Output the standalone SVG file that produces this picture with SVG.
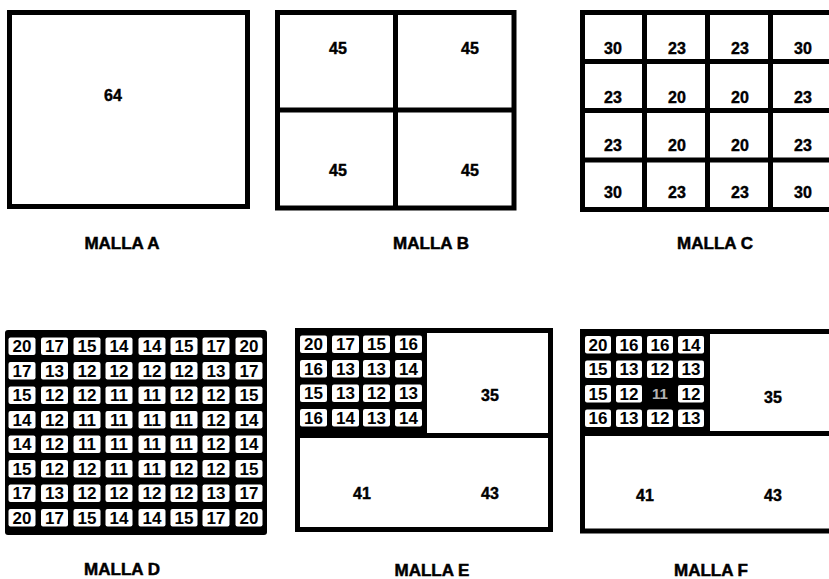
<svg xmlns="http://www.w3.org/2000/svg" width="829" height="579" viewBox="0 0 829 579">
<style>
.frame{fill:none;stroke:#000;stroke-width:5}
.div{stroke:#000;stroke-width:5}
.num{font-family:"Liberation Sans",Arial,sans-serif;font-weight:bold;font-size:16px;text-anchor:middle;fill:#000;stroke:#000;stroke-width:0.4}
.lbl{font-family:"Liberation Sans",Arial,sans-serif;font-weight:bold;font-size:17px;text-anchor:middle;fill:#000;stroke:#000;stroke-width:0.5}
.blk{fill:#000}
.cell{fill:#fff;rx:2}
.cn{font-family:"Liberation Sans",Arial,sans-serif;font-weight:bold;font-size:17px;text-anchor:middle;fill:#000}
.cw{font-family:"Liberation Sans",Arial,sans-serif;font-weight:bold;font-size:15px;text-anchor:middle;fill:#fff;opacity:0.7}
</style>
<rect width="829" height="579" fill="#fff"/>

<g id="mallaA">
<rect class="frame" x="9.5" y="12.5" width="238" height="194"/>
<text class="num" x="113" y="101">64</text>
<text class="lbl" x="122" y="249">MALLA A</text>
</g>

<g id="mallaB">
<rect class="frame" x="277.5" y="12.5" width="236.5" height="195.5"/>
<line class="div" x1="395.5" y1="12.5" x2="395.5" y2="208"/>
<line class="div" x1="277.5" y1="110" x2="514" y2="110"/>
<text class="num" x="338" y="54">45</text>
<text class="num" x="470" y="54">45</text>
<text class="num" x="338" y="176">45</text>
<text class="num" x="470" y="176">45</text>
<text class="lbl" x="431" y="249">MALLA B</text>
</g>

<g id="mallaC">
<rect class="frame" x="582.5" y="12.5" width="252" height="197"/>
<line class="div" x1="644.5" y1="12.5" x2="644.5" y2="209.5"/>
<line class="div" x1="707.5" y1="12.5" x2="707.5" y2="209.5"/>
<line class="div" x1="770.5" y1="12.5" x2="770.5" y2="209.5"/>
<line class="div" x1="582.5" y1="61.5" x2="834" y2="61.5"/>
<line class="div" x1="582.5" y1="110.5" x2="834" y2="110.5"/>
<line class="div" x1="582.5" y1="160" x2="834" y2="160"/>
<text class="num" y="54"><tspan x="613">30</tspan><tspan x="677">23</tspan><tspan x="740">23</tspan><tspan x="803">30</tspan></text>
<text class="num" y="103"><tspan x="613">23</tspan><tspan x="677">20</tspan><tspan x="740">20</tspan><tspan x="803">23</tspan></text>
<text class="num" y="151"><tspan x="613">23</tspan><tspan x="677">20</tspan><tspan x="740">20</tspan><tspan x="803">23</tspan></text>
<text class="num" y="198"><tspan x="613">30</tspan><tspan x="677">23</tspan><tspan x="740">23</tspan><tspan x="803">30</tspan></text>
<text class="lbl" x="715" y="249">MALLA C</text>
</g>

<g id="mallaD">
<rect class="blk" x="5" y="330" width="262" height="205" rx="3"/>
<g class="cells">
<rect class="cell" x="8.5" y="337.5" width="27" height="17.5"/><rect class="cell" x="41" y="337.5" width="27" height="17.5"/><rect class="cell" x="73.5" y="337.5" width="27" height="17.5"/><rect class="cell" x="105.5" y="337.5" width="27" height="17.5"/><rect class="cell" x="138.5" y="337.5" width="27" height="17.5"/><rect class="cell" x="170.5" y="337.5" width="27" height="17.5"/><rect class="cell" x="202.5" y="337.5" width="27" height="17.5"/><rect class="cell" x="235.5" y="337.5" width="27" height="17.5"/>
<rect class="cell" x="8.5" y="362" width="27" height="17.5"/><rect class="cell" x="41" y="362" width="27" height="17.5"/><rect class="cell" x="73.5" y="362" width="27" height="17.5"/><rect class="cell" x="105.5" y="362" width="27" height="17.5"/><rect class="cell" x="138.5" y="362" width="27" height="17.5"/><rect class="cell" x="170.5" y="362" width="27" height="17.5"/><rect class="cell" x="202.5" y="362" width="27" height="17.5"/><rect class="cell" x="235.5" y="362" width="27" height="17.5"/>
<rect class="cell" x="8.5" y="386.5" width="27" height="17.5"/><rect class="cell" x="41" y="386.5" width="27" height="17.5"/><rect class="cell" x="73.5" y="386.5" width="27" height="17.5"/><rect class="cell" x="105.5" y="386.5" width="27" height="17.5"/><rect class="cell" x="138.5" y="386.5" width="27" height="17.5"/><rect class="cell" x="170.5" y="386.5" width="27" height="17.5"/><rect class="cell" x="202.5" y="386.5" width="27" height="17.5"/><rect class="cell" x="235.5" y="386.5" width="27" height="17.5"/>
<rect class="cell" x="8.5" y="411" width="27" height="17.5"/><rect class="cell" x="41" y="411" width="27" height="17.5"/><rect class="cell" x="73.5" y="411" width="27" height="17.5"/><rect class="cell" x="105.5" y="411" width="27" height="17.5"/><rect class="cell" x="138.5" y="411" width="27" height="17.5"/><rect class="cell" x="170.5" y="411" width="27" height="17.5"/><rect class="cell" x="202.5" y="411" width="27" height="17.5"/><rect class="cell" x="235.5" y="411" width="27" height="17.5"/>
<rect class="cell" x="8.5" y="435.5" width="27" height="17.5"/><rect class="cell" x="41" y="435.5" width="27" height="17.5"/><rect class="cell" x="73.5" y="435.5" width="27" height="17.5"/><rect class="cell" x="105.5" y="435.5" width="27" height="17.5"/><rect class="cell" x="138.5" y="435.5" width="27" height="17.5"/><rect class="cell" x="170.5" y="435.5" width="27" height="17.5"/><rect class="cell" x="202.5" y="435.5" width="27" height="17.5"/><rect class="cell" x="235.5" y="435.5" width="27" height="17.5"/>
<rect class="cell" x="8.5" y="460" width="27" height="17.5"/><rect class="cell" x="41" y="460" width="27" height="17.5"/><rect class="cell" x="73.5" y="460" width="27" height="17.5"/><rect class="cell" x="105.5" y="460" width="27" height="17.5"/><rect class="cell" x="138.5" y="460" width="27" height="17.5"/><rect class="cell" x="170.5" y="460" width="27" height="17.5"/><rect class="cell" x="202.5" y="460" width="27" height="17.5"/><rect class="cell" x="235.5" y="460" width="27" height="17.5"/>
<rect class="cell" x="8.5" y="484.5" width="27" height="17.5"/><rect class="cell" x="41" y="484.5" width="27" height="17.5"/><rect class="cell" x="73.5" y="484.5" width="27" height="17.5"/><rect class="cell" x="105.5" y="484.5" width="27" height="17.5"/><rect class="cell" x="138.5" y="484.5" width="27" height="17.5"/><rect class="cell" x="170.5" y="484.5" width="27" height="17.5"/><rect class="cell" x="202.5" y="484.5" width="27" height="17.5"/><rect class="cell" x="235.5" y="484.5" width="27" height="17.5"/>
<rect class="cell" x="8.5" y="509" width="27" height="17.5"/><rect class="cell" x="41" y="509" width="27" height="17.5"/><rect class="cell" x="73.5" y="509" width="27" height="17.5"/><rect class="cell" x="105.5" y="509" width="27" height="17.5"/><rect class="cell" x="138.5" y="509" width="27" height="17.5"/><rect class="cell" x="170.5" y="509" width="27" height="17.5"/><rect class="cell" x="202.5" y="509" width="27" height="17.5"/><rect class="cell" x="235.5" y="509" width="27" height="17.5"/>
</g>
<text class="cn" y="352.3"><tspan x="22">20</tspan><tspan x="54.5">17</tspan><tspan x="87">15</tspan><tspan x="119">14</tspan><tspan x="152">14</tspan><tspan x="184">15</tspan><tspan x="216">17</tspan><tspan x="249">20</tspan></text>
<text class="cn" y="376.8"><tspan x="22">17</tspan><tspan x="54.5">13</tspan><tspan x="87">12</tspan><tspan x="119">12</tspan><tspan x="152">12</tspan><tspan x="184">12</tspan><tspan x="216">13</tspan><tspan x="249">17</tspan></text>
<text class="cn" y="401.3"><tspan x="22">15</tspan><tspan x="54.5">12</tspan><tspan x="87">12</tspan><tspan x="119">11</tspan><tspan x="152">11</tspan><tspan x="184">12</tspan><tspan x="216">12</tspan><tspan x="249">15</tspan></text>
<text class="cn" y="425.8"><tspan x="22">14</tspan><tspan x="54.5">12</tspan><tspan x="87">11</tspan><tspan x="119">11</tspan><tspan x="152">11</tspan><tspan x="184">11</tspan><tspan x="216">12</tspan><tspan x="249">14</tspan></text>
<text class="cn" y="450.3"><tspan x="22">14</tspan><tspan x="54.5">12</tspan><tspan x="87">11</tspan><tspan x="119">11</tspan><tspan x="152">11</tspan><tspan x="184">11</tspan><tspan x="216">12</tspan><tspan x="249">14</tspan></text>
<text class="cn" y="474.8"><tspan x="22">15</tspan><tspan x="54.5">12</tspan><tspan x="87">12</tspan><tspan x="119">11</tspan><tspan x="152">11</tspan><tspan x="184">12</tspan><tspan x="216">12</tspan><tspan x="249">15</tspan></text>
<text class="cn" y="499.3"><tspan x="22">17</tspan><tspan x="54.5">13</tspan><tspan x="87">12</tspan><tspan x="119">12</tspan><tspan x="152">12</tspan><tspan x="184">12</tspan><tspan x="216">13</tspan><tspan x="249">17</tspan></text>
<text class="cn" y="523.8"><tspan x="22">20</tspan><tspan x="54.5">17</tspan><tspan x="87">15</tspan><tspan x="119">14</tspan><tspan x="152">14</tspan><tspan x="184">15</tspan><tspan x="216">17</tspan><tspan x="249">20</tspan></text>
<text class="lbl" x="122" y="575">MALLA D</text>
</g>

<g id="mallaE">
<rect class="blk" x="295" y="328" width="132" height="108"/>
<rect class="frame" x="297.5" y="330.5" width="253" height="199"/>
<line class="div" x1="297.5" y1="435.5" x2="550.5" y2="435.5"/>
<rect class="cell" x="300" y="335.5" width="27" height="17.5"/><rect class="cell" x="332" y="335.5" width="27" height="17.5"/><rect class="cell" x="363" y="335.5" width="27" height="17.5"/><rect class="cell" x="395" y="335.5" width="27" height="17.5"/>
<rect class="cell" x="300" y="360" width="27" height="17.5"/><rect class="cell" x="332" y="360" width="27" height="17.5"/><rect class="cell" x="363" y="360" width="27" height="17.5"/><rect class="cell" x="395" y="360" width="27" height="17.5"/>
<rect class="cell" x="300" y="384.5" width="27" height="17.5"/><rect class="cell" x="332" y="384.5" width="27" height="17.5"/><rect class="cell" x="363" y="384.5" width="27" height="17.5"/><rect class="cell" x="395" y="384.5" width="27" height="17.5"/>
<rect class="cell" x="300" y="409" width="27" height="17.5"/><rect class="cell" x="332" y="409" width="27" height="17.5"/><rect class="cell" x="363" y="409" width="27" height="17.5"/><rect class="cell" x="395" y="409" width="27" height="17.5"/>
<text class="cn" y="350.3"><tspan x="313.5">20</tspan><tspan x="345.5">17</tspan><tspan x="376.5">15</tspan><tspan x="408.5">16</tspan></text>
<text class="cn" y="374.8"><tspan x="313.5">16</tspan><tspan x="345.5">13</tspan><tspan x="376.5">13</tspan><tspan x="408.5">14</tspan></text>
<text class="cn" y="399.3"><tspan x="313.5">15</tspan><tspan x="345.5">13</tspan><tspan x="376.5">12</tspan><tspan x="408.5">13</tspan></text>
<text class="cn" y="423.8"><tspan x="313.5">16</tspan><tspan x="345.5">14</tspan><tspan x="376.5">13</tspan><tspan x="408.5">14</tspan></text>
<text class="num" x="490" y="401">35</text>
<text class="num" x="362" y="499">41</text>
<text class="num" x="490" y="499">43</text>
<text class="lbl" x="432" y="576">MALLA E</text>
</g>

<g id="mallaF">
<rect class="blk" x="580" y="329" width="130" height="105"/>
<rect class="frame" x="582.5" y="331.5" width="260" height="199.5"/>
<line class="div" x1="582.5" y1="433.5" x2="842" y2="433.5"/>
<rect class="cell" x="585" y="336" width="26" height="17.5"/><rect class="cell" x="616" y="336" width="26" height="17.5"/><rect class="cell" x="647" y="336" width="26" height="17.5"/><rect class="cell" x="678" y="336" width="26" height="17.5"/>
<rect class="cell" x="585" y="360.5" width="26" height="17.5"/><rect class="cell" x="616" y="360.5" width="26" height="17.5"/><rect class="cell" x="647" y="360.5" width="26" height="17.5"/><rect class="cell" x="678" y="360.5" width="26" height="17.5"/>
<rect class="cell" x="585" y="385" width="26" height="17.5"/><rect class="cell" x="616" y="385" width="26" height="17.5"/><rect class="cell" x="678" y="385" width="26" height="17.5"/>
<rect class="cell" x="585" y="409.5" width="26" height="17.5"/><rect class="cell" x="616" y="409.5" width="26" height="17.5"/><rect class="cell" x="647" y="409.5" width="26" height="17.5"/><rect class="cell" x="678" y="409.5" width="26" height="17.5"/>
<text class="cn" y="350.8"><tspan x="598">20</tspan><tspan x="629">16</tspan><tspan x="660">16</tspan><tspan x="691">14</tspan></text>
<text class="cn" y="375.3"><tspan x="598">15</tspan><tspan x="629">13</tspan><tspan x="660">12</tspan><tspan x="691">13</tspan></text>
<text class="cn" y="399.8"><tspan x="598">15</tspan><tspan x="629">12</tspan><tspan x="691">12</tspan></text>
<text class="cw" x="660" y="399">11</text>
<text class="cn" y="424.3"><tspan x="598">16</tspan><tspan x="629">13</tspan><tspan x="660">12</tspan><tspan x="691">13</tspan></text>
<text class="num" x="773" y="403">35</text>
<text class="num" x="645" y="501">41</text>
<text class="num" x="773" y="501">43</text>
<text class="lbl" x="711" y="576">MALLA F</text>
</g>
</svg>
